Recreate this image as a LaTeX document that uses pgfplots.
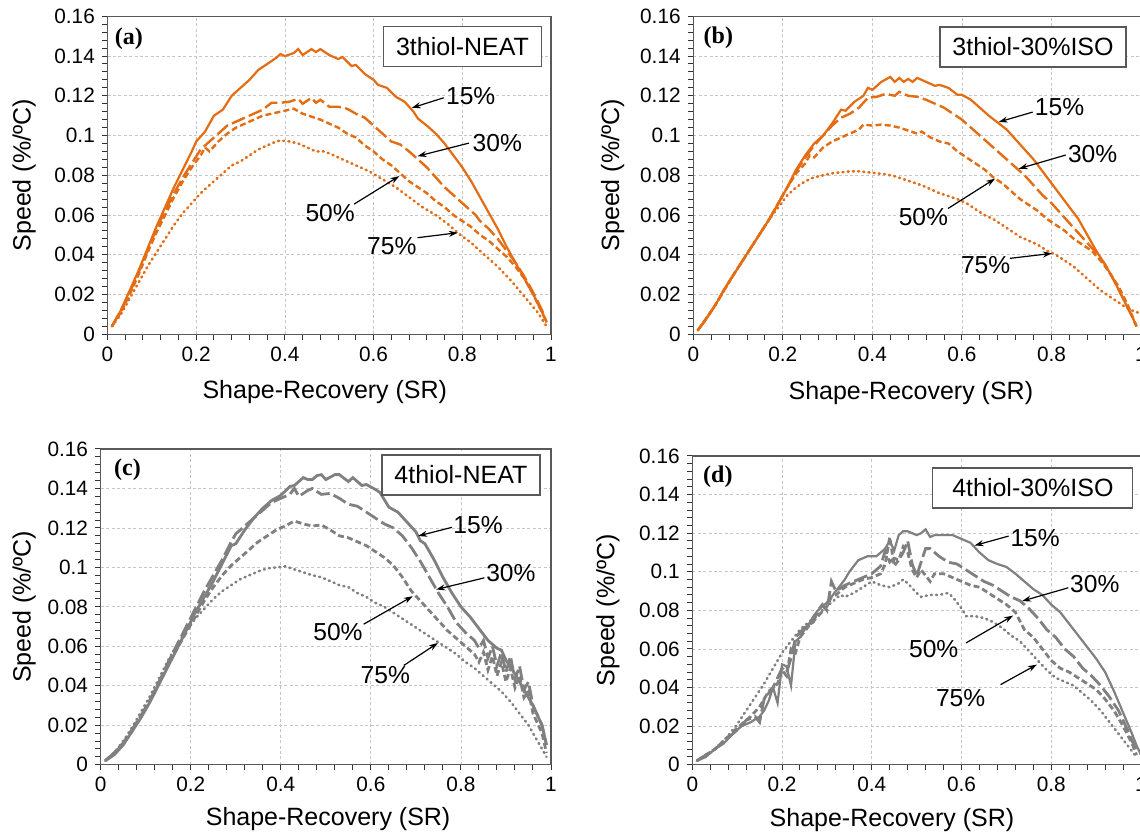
\documentclass[border=0pt]{standalone}
\usepackage{pgfplots}
\pgfplotsset{compat=1.18}
\usepackage{fontspec}
\setmainfont{Liberation Sans}
\newfontfamily\tnr{Liberation Serif}
\usetikzlibrary{arrows.meta}
\definecolor{orng}{RGB}{228,108,18}
\definecolor{gry}{RGB}{128,128,128}
\tikzset{
 s15/.style={line width=1.1pt},
 s30/.style={line width=1.2pt, dash pattern=on 7pt off 2.2pt},
 s50/.style={line width=1.2pt, dash pattern=on 3pt off 1.6pt},
 s75/.style={line width=1.3pt, line cap=round, dash pattern=on 0.5pt off 2.1pt},
 ann/.style={font=\fontsize{12.3}{14}\selectfont},
 arr/.style={-{Stealth[length=4.5pt,width=3pt]}, line width=0.6pt, black},
 boxl/.style={draw=gray!70!black, line width=0.6pt, fill=white, font=\fontsize{12.5}{14}\selectfont, minimum height=20pt, inner sep=0pt},
 plab/.style={font=\tnr\bfseries\fontsize{12}{14}\selectfont},
}
\pgfplotsset{
 panel/.style={
  scale only axis, xmin=0,xmax=1,ymin=0,ymax=0.16,
  xtick={0,0.2,0.4,0.6,0.8,1}, ytick={0,0.02,0.04,0.06,0.08,0.1,0.12,0.14,0.16},
  minor x tick num=4, minor y tick num=4,
  tick pos=left, tick align=outside,
  major tick length=2.8pt, minor tick length=2.8pt,
  grid=major, major grid style={gray!45, dash pattern=on 1.5pt off 1.2pt, line width=0.4pt},
  axis line style={gray!70!black, line width=0.6pt},
  tick style={black!80, line width=0.5pt},
  scaled ticks=false,
  xticklabel style={/pgf/number format/fixed, /pgf/number format/precision=1},
  yticklabel style={/pgf/number format/fixed, /pgf/number format/precision=2},
  /pgf/number format/assume math mode=true,
  tick label style={font=\fontsize{10.4}{12}\selectfont},
  label style={font=\fontsize{12.5}{14}\selectfont},
  xlabel={Shape-Recovery (SR)}, ylabel={Speed (\%/ºC)},
  clip=false,
 },
}
\begin{document}
\begin{tikzpicture}
\path[use as bounding box] (0,0) rectangle (570pt,417.5pt);
% ---------------- (a)
\begin{axis}[panel, at={(53.75pt,250.35pt)}, anchor=south west, width=221.75pt, height=159pt,
  xlabel style={at={(axis description cs:0.49,-0.181)}, anchor=center},
  ylabel style={at={(axis description cs:-0.188,0.5)}, anchor=center}]
\addplot[orng, s15] coordinates {(0.01,0.004) (0.03,0.012) (0.05,0.022) (0.07,0.032) (0.09,0.043) (0.11,0.054) (0.13,0.064) (0.15,0.074) (0.17,0.083) (0.19,0.092) (0.20,0.097) (0.22,0.102) (0.24,0.110) (0.26,0.113) (0.28,0.120) (0.30,0.124) (0.32,0.128) (0.34,0.133) (0.36,0.136) (0.38,0.139) (0.39,0.141) (0.40,0.140) (0.42,0.1415) (0.43,0.1435) (0.44,0.1405) (0.46,0.1435) (0.47,0.142) (0.48,0.1435) (0.50,0.1405) (0.52,0.1385) (0.53,0.1395) (0.55,0.135) (0.56,0.1355) (0.58,0.131) (0.60,0.128) (0.61,0.1255) (0.63,0.124) (0.65,0.1195) (0.67,0.117) (0.69,0.112) (0.70,0.1085) (0.72,0.105) (0.74,0.101) (0.76,0.096) (0.78,0.090) (0.80,0.084) (0.82,0.077) (0.84,0.069) (0.86,0.061) (0.88,0.053) (0.90,0.044) (0.92,0.036) (0.94,0.028) (0.96,0.020) (0.98,0.011) (0.99,0.006)};
\addplot[orng, s30] coordinates {(0.01,0.004) (0.03,0.012) (0.05,0.021) (0.07,0.031) (0.09,0.042) (0.11,0.053) (0.13,0.062) (0.15,0.071) (0.17,0.079) (0.19,0.086) (0.21,0.093) (0.23,0.097) (0.25,0.101) (0.27,0.105) (0.29,0.107) (0.31,0.109) (0.33,0.111) (0.35,0.113) (0.37,0.1165) (0.39,0.1165) (0.41,0.117) (0.43,0.1185) (0.44,0.116) (0.46,0.119) (0.47,0.1165) (0.48,0.118) (0.50,0.1145) (0.52,0.1145) (0.54,0.1135) (0.56,0.111) (0.58,0.109) (0.60,0.105) (0.62,0.101) (0.64,0.097) (0.66,0.0955) (0.68,0.092) (0.70,0.088) (0.72,0.084) (0.74,0.079) (0.76,0.074) (0.78,0.070) (0.80,0.066) (0.82,0.062) (0.83,0.060) (0.84,0.057) (0.86,0.053) (0.88,0.048) (0.90,0.042) (0.92,0.036) (0.94,0.029) (0.96,0.021) (0.98,0.012) (0.99,0.006)};
\addplot[orng, s50] coordinates {(0.01,0.004) (0.03,0.011) (0.05,0.020) (0.07,0.030) (0.09,0.041) (0.11,0.051) (0.13,0.060) (0.15,0.069) (0.17,0.077) (0.19,0.084) (0.21,0.090) (0.22,0.094) (0.23,0.092) (0.25,0.097) (0.27,0.101) (0.29,0.104) (0.31,0.106) (0.33,0.108) (0.35,0.110) (0.37,0.111) (0.39,0.112) (0.41,0.113) (0.42,0.1135) (0.44,0.111) (0.46,0.1095) (0.48,0.108) (0.50,0.106) (0.52,0.104) (0.54,0.101) (0.56,0.099) (0.58,0.095) (0.60,0.092) (0.62,0.088) (0.64,0.085) (0.66,0.081) (0.68,0.077) (0.70,0.074) (0.72,0.071) (0.74,0.067) (0.76,0.064) (0.78,0.060) (0.80,0.057) (0.82,0.054) (0.84,0.050) (0.86,0.047) (0.88,0.043) (0.90,0.039) (0.92,0.034) (0.94,0.028) (0.96,0.020) (0.98,0.011) (0.99,0.006)};
\addplot[orng, s75] coordinates {(0.01,0.004) (0.03,0.010) (0.05,0.018) (0.07,0.026) (0.09,0.034) (0.11,0.041) (0.13,0.048) (0.15,0.055) (0.17,0.061) (0.19,0.066) (0.21,0.071) (0.23,0.075) (0.25,0.079) (0.27,0.083) (0.28,0.085) (0.30,0.087) (0.32,0.090) (0.34,0.093) (0.36,0.095) (0.38,0.097) (0.39,0.0975) (0.41,0.097) (0.43,0.096) (0.45,0.094) (0.47,0.092) (0.49,0.092) (0.51,0.090) (0.53,0.088) (0.56,0.085) (0.59,0.082) (0.62,0.078) (0.65,0.074) (0.68,0.069) (0.71,0.064) (0.74,0.060) (0.77,0.055) (0.79,0.051) (0.82,0.046) (0.85,0.040) (0.88,0.034) (0.91,0.027) (0.94,0.019) (0.97,0.011) (0.99,0.004)};
\node[boxl, minimum width=79pt] at (axis cs:0.8005,0.1446) {3thiol-NEAT};
\node[plab] at (axis cs:0.048,0.1486) {(a)};
\node[ann] at (axis cs:0.819,0.1198) {15\%};
\draw[arr] (axis cs:0.758,0.119) -- (axis cs:0.686,0.1139);
\node[ann] at (axis cs:0.879,0.096) {30\%};
\draw[arr] (axis cs:0.815,0.0962) -- (axis cs:0.699,0.0896);
\node[ann] at (axis cs:0.502,0.0608) {50\%};
\draw[arr] (axis cs:0.556,0.0655) -- (axis cs:0.658,0.0796);
\node[ann] at (axis cs:0.641,0.0444) {75\%};
\draw[arr] (axis cs:0.699,0.0486) -- (axis cs:0.790,0.0511);
\end{axis}
% ---------------- (b)
\begin{axis}[panel, at={(346.65pt,250.35pt)}, anchor=south west, width=223.85pt, height=159pt,
  xlabel style={at={(axis description cs:0.486,-0.185)}, anchor=center},
  ylabel style={at={(axis description cs:-0.18,0.5)}, anchor=center}]
\addplot[orng, s15] coordinates {(0.01,0.002) (0.03,0.008) (0.05,0.015) (0.07,0.023) (0.09,0.030) (0.11,0.037) (0.13,0.044) (0.15,0.051) (0.17,0.058) (0.19,0.066) (0.21,0.074) (0.23,0.083) (0.25,0.090) (0.27,0.096) (0.29,0.100) (0.31,0.106) (0.33,0.113) (0.34,0.1125) (0.36,0.117) (0.38,0.120) (0.39,0.124) (0.40,0.123) (0.42,0.127) (0.44,0.1295) (0.45,0.127) (0.46,0.129) (0.47,0.127) (0.48,0.1285) (0.49,0.127) (0.50,0.129) (0.52,0.127) (0.54,0.125) (0.55,0.1255) (0.57,0.124) (0.59,0.1205) (0.60,0.1205) (0.62,0.118) (0.64,0.114) (0.66,0.110) (0.68,0.1065) (0.70,0.103) (0.72,0.098) (0.74,0.093) (0.76,0.088) (0.78,0.082) (0.80,0.076) (0.82,0.070) (0.84,0.064) (0.86,0.058) (0.88,0.050) (0.90,0.042) (0.92,0.035) (0.94,0.027) (0.96,0.018) (0.98,0.009) (0.99,0.004)};
\addplot[orng, s30] coordinates {(0.01,0.002) (0.03,0.008) (0.05,0.015) (0.07,0.023) (0.09,0.030) (0.11,0.037) (0.13,0.044) (0.15,0.051) (0.17,0.058) (0.19,0.066) (0.21,0.074) (0.23,0.082) (0.25,0.089) (0.27,0.095) (0.29,0.100) (0.31,0.105) (0.33,0.109) (0.35,0.111) (0.37,0.114) (0.39,0.119) (0.41,0.1195) (0.43,0.121) (0.45,0.120) (0.46,0.122) (0.48,0.120) (0.50,0.1195) (0.52,0.118) (0.54,0.116) (0.56,0.114) (0.58,0.111) (0.60,0.108) (0.62,0.104) (0.64,0.100) (0.66,0.096) (0.68,0.092) (0.70,0.088) (0.72,0.084) (0.74,0.080) (0.76,0.075) (0.78,0.070) (0.80,0.066) (0.82,0.061) (0.84,0.056) (0.86,0.051) (0.88,0.046) (0.90,0.041) (0.92,0.035) (0.94,0.027) (0.96,0.018) (0.98,0.009) (0.99,0.004)};
\addplot[orng, s50] coordinates {(0.01,0.002) (0.05,0.015) (0.09,0.030) (0.13,0.044) (0.17,0.058) (0.19,0.066) (0.21,0.074) (0.23,0.081) (0.25,0.086) (0.26,0.090) (0.27,0.089) (0.29,0.094) (0.31,0.097) (0.33,0.099) (0.35,0.101) (0.37,0.103) (0.38,0.1055) (0.40,0.105) (0.42,0.1055) (0.44,0.105) (0.46,0.104) (0.48,0.1025) (0.50,0.101) (0.51,0.102) (0.53,0.099) (0.55,0.097) (0.57,0.096) (0.59,0.092) (0.61,0.089) (0.63,0.086) (0.65,0.083) (0.67,0.079) (0.69,0.076) (0.71,0.072) (0.73,0.068) (0.75,0.065) (0.77,0.062) (0.79,0.058) (0.81,0.055) (0.83,0.052) (0.85,0.048) (0.87,0.045) (0.89,0.042) (0.91,0.037) (0.93,0.031) (0.95,0.024) (0.97,0.015) (0.99,0.004)};
\addplot[orng, s75] coordinates {(0.01,0.002) (0.05,0.015) (0.09,0.030) (0.13,0.044) (0.17,0.058) (0.19,0.064) (0.21,0.070) (0.23,0.074) (0.25,0.077) (0.27,0.079) (0.29,0.080) (0.31,0.081) (0.33,0.0815) (0.35,0.082) (0.37,0.082) (0.39,0.0815) (0.41,0.081) (0.43,0.0805) (0.45,0.0795) (0.47,0.078) (0.49,0.0765) (0.51,0.075) (0.53,0.073) (0.55,0.071) (0.57,0.0695) (0.59,0.068) (0.61,0.066) (0.63,0.063) (0.65,0.060) (0.67,0.058) (0.69,0.055) (0.71,0.052) (0.73,0.049) (0.75,0.047) (0.77,0.045) (0.79,0.042) (0.81,0.040) (0.83,0.037) (0.85,0.034) (0.87,0.030) (0.89,0.026) (0.91,0.022) (0.93,0.019) (0.95,0.016) (0.97,0.013) (0.99,0.011) (1.00,0.011)};
\node[boxl, minimum width=93pt] at (axis cs:0.7588,0.1446) {3thiol-30\%ISO};
\node[plab] at (axis cs:0.056,0.1492) {(b)};
\node[ann] at (axis cs:0.818,0.1143) {15\%};
\draw[arr] (axis cs:0.758,0.1118) -- (axis cs:0.682,0.1068);
\node[ann] at (axis cs:0.892,0.0909) {30\%};
\draw[arr] (axis cs:0.832,0.0902) -- (axis cs:0.727,0.0833);
\node[ann] at (axis cs:0.514,0.0591) {50\%};
\draw[arr] (axis cs:0.569,0.0633) -- (axis cs:0.674,0.0783);
\node[ann] at (axis cs:0.653,0.0348) {75\%};
\draw[arr] (axis cs:0.707,0.0382) -- (axis cs:0.801,0.0407);
\end{axis}
% ---------------- (c)
\begin{axis}[panel, at={(50.35pt,35.15pt)}, anchor=south west, width=225.15pt, height=157.85pt,
  xlabel style={at={(axis description cs:0.505,-0.172)}, anchor=center},
  ylabel style={at={(axis description cs:-0.170,0.5)}, anchor=center}]
\addplot[gry, s15, line width=1.4pt] coordinates {(0.01,0.002) (0.03,0.005) (0.05,0.010) (0.07,0.017) (0.09,0.024) (0.11,0.032) (0.13,0.041) (0.15,0.050) (0.17,0.059) (0.19,0.068) (0.21,0.077) (0.23,0.085) (0.25,0.093) (0.27,0.102) (0.29,0.111) (0.30,0.112) (0.32,0.119) (0.34,0.125) (0.36,0.130) (0.38,0.134) (0.40,0.1365) (0.42,0.141) (0.43,0.1415) (0.45,0.1455) (0.46,0.1445) (0.47,0.1445) (0.48,0.1465) (0.49,0.147) (0.50,0.1445) (0.52,0.147) (0.53,0.147) (0.55,0.1435) (0.56,0.1455) (0.58,0.1415) (0.59,0.142) (0.61,0.1395) (0.62,0.138) (0.64,0.1305) (0.66,0.128) (0.68,0.123) (0.70,0.118) (0.71,0.1135) (0.72,0.112) (0.74,0.104) (0.76,0.095) (0.78,0.087) (0.80,0.080) (0.82,0.075) (0.84,0.069) (0.86,0.063) (0.88,0.059) (0.89,0.058) (0.90,0.053) (0.92,0.046) (0.94,0.038) (0.96,0.030) (0.98,0.020) (0.99,0.010)};
\addplot[gry, s30, line width=1.4pt] coordinates {(0.01,0.002) (0.03,0.006) (0.05,0.011) (0.07,0.018) (0.09,0.025) (0.11,0.033) (0.13,0.042) (0.15,0.052) (0.17,0.061) (0.19,0.070) (0.21,0.079) (0.23,0.088) (0.25,0.096) (0.27,0.104) (0.29,0.113) (0.30,0.117) (0.32,0.121) (0.34,0.125) (0.36,0.129) (0.38,0.133) (0.40,0.135) (0.42,0.137) (0.43,0.140) (0.44,0.136) (0.46,0.139) (0.47,0.140) (0.49,0.137) (0.51,0.1375) (0.53,0.135) (0.55,0.132) (0.57,0.131) (0.59,0.128) (0.61,0.125) (0.63,0.122) (0.65,0.120) (0.67,0.116) (0.69,0.110) (0.71,0.103) (0.73,0.095) (0.75,0.087) (0.77,0.080) (0.79,0.072) (0.81,0.067) (0.83,0.063) (0.84,0.059) (0.85,0.063) (0.86,0.054) (0.87,0.060) (0.88,0.050) (0.89,0.057) (0.90,0.047) (0.91,0.055) (0.92,0.043) (0.93,0.050) (0.94,0.038) (0.95,0.042) (0.96,0.030) (0.98,0.020) (0.99,0.010)};
\addplot[gry, s50, line width=1.4pt] coordinates {(0.01,0.002) (0.03,0.006) (0.05,0.011) (0.07,0.017) (0.09,0.025) (0.11,0.033) (0.13,0.042) (0.15,0.051) (0.17,0.059) (0.19,0.067) (0.21,0.075) (0.23,0.083) (0.25,0.090) (0.27,0.096) (0.29,0.101) (0.31,0.105) (0.33,0.109) (0.35,0.113) (0.37,0.116) (0.39,0.119) (0.41,0.121) (0.43,0.1235) (0.45,0.122) (0.47,0.121) (0.49,0.1215) (0.51,0.119) (0.53,0.116) (0.55,0.115) (0.57,0.113) (0.59,0.111) (0.61,0.108) (0.63,0.105) (0.65,0.101) (0.67,0.095) (0.69,0.088) (0.71,0.083) (0.73,0.078) (0.75,0.073) (0.77,0.068) (0.79,0.064) (0.81,0.060) (0.83,0.056) (0.84,0.052) (0.85,0.057) (0.86,0.048) (0.87,0.055) (0.88,0.045) (0.89,0.052) (0.90,0.042) (0.91,0.049) (0.92,0.039) (0.93,0.045) (0.94,0.034) (0.95,0.037) (0.96,0.026) (0.98,0.016) (0.99,0.006)};
\addplot[gry, s75] coordinates {(0.01,0.002) (0.03,0.006) (0.05,0.012) (0.07,0.019) (0.09,0.027) (0.11,0.035) (0.13,0.044) (0.15,0.053) (0.17,0.061) (0.19,0.068) (0.21,0.074) (0.23,0.079) (0.25,0.084) (0.27,0.088) (0.29,0.091) (0.31,0.094) (0.33,0.096) (0.35,0.098) (0.37,0.0995) (0.39,0.100) (0.41,0.1005) (0.43,0.099) (0.45,0.0975) (0.47,0.096) (0.49,0.095) (0.51,0.093) (0.53,0.091) (0.55,0.090) (0.57,0.087) (0.59,0.085) (0.61,0.082) (0.63,0.080) (0.65,0.077) (0.67,0.074) (0.69,0.071) (0.71,0.068) (0.73,0.065) (0.75,0.062) (0.77,0.059) (0.79,0.056) (0.81,0.052) (0.83,0.049) (0.85,0.045) (0.87,0.041) (0.89,0.037) (0.91,0.032) (0.93,0.026) (0.95,0.020) (0.97,0.012) (0.99,0.004)};
\node[boxl, minimum width=79pt] at (axis cs:0.800,0.1468) {4thiol-NEAT};
\node[plab] at (axis cs:0.0595,0.1496) {(c)};
\node[ann] at (axis cs:0.838,0.1215) {15\%};
\draw[arr] (axis cs:0.780,0.1203) -- (axis cs:0.705,0.1159);
\node[ann] at (axis cs:0.911,0.0972) {30\%};
\draw[arr] (axis cs:0.852,0.0947) -- (axis cs:0.745,0.0888);
\node[ann] at (axis cs:0.527,0.067) {50\%};
\draw[arr] (axis cs:0.584,0.0712) -- (axis cs:0.693,0.0854);
\node[ann] at (axis cs:0.632,0.0452) {75\%};
\draw[arr] (axis cs:0.673,0.0503) -- (axis cs:0.749,0.0617);
\end{axis}
% ---------------- (d)
\begin{axis}[panel, at={(346.15pt,35.15pt)}, anchor=south west, width=224.35pt, height=154.35pt,
  xlabel style={at={(axis description cs:0.445,-0.179)}, anchor=center},
  ylabel style={at={(axis description cs:-0.188,0.5)}, anchor=center}]
\addplot[gry, s15] coordinates {(0.01,0.002) (0.03,0.004) (0.05,0.008) (0.07,0.011) (0.09,0.016) (0.11,0.020) (0.13,0.022) (0.15,0.025) (0.16,0.028) (0.17,0.033) (0.18,0.040) (0.19,0.032) (0.20,0.052) (0.21,0.051) (0.22,0.041) (0.23,0.064) (0.24,0.066) (0.25,0.070) (0.26,0.073) (0.27,0.077) (0.28,0.080) (0.29,0.082) (0.30,0.084) (0.31,0.087) (0.32,0.090) (0.33,0.093) (0.34,0.096) (0.35,0.100) (0.37,0.106) (0.39,0.108) (0.41,0.108) (0.42,0.110) (0.43,0.112) (0.44,0.116) (0.45,0.111) (0.46,0.119) (0.47,0.121) (0.48,0.121) (0.49,0.120) (0.50,0.119) (0.51,0.120) (0.52,0.122) (0.53,0.118) (0.54,0.119) (0.56,0.119) (0.58,0.119) (0.60,0.117) (0.62,0.115) (0.64,0.110) (0.66,0.106) (0.68,0.104) (0.70,0.1025) (0.72,0.099) (0.74,0.095) (0.76,0.091) (0.78,0.088) (0.80,0.083) (0.82,0.079) (0.84,0.073) (0.86,0.067) (0.88,0.061) (0.90,0.055) (0.92,0.048) (0.94,0.038) (0.96,0.027) (0.98,0.016) (0.99,0.010) (1.00,0.005)};
\addplot[gry, s30, line width=1.4pt] coordinates {(0.01,0.002) (0.05,0.008) (0.10,0.018) (0.12,0.023) (0.14,0.025) (0.15,0.022) (0.16,0.034) (0.18,0.040) (0.19,0.045) (0.20,0.050) (0.21,0.048) (0.22,0.055) (0.23,0.066) (0.25,0.071) (0.27,0.074) (0.28,0.080) (0.29,0.083) (0.30,0.080) (0.31,0.095) (0.32,0.090) (0.34,0.093) (0.36,0.095) (0.38,0.097) (0.40,0.099) (0.42,0.103) (0.43,0.111) (0.44,0.105) (0.45,0.107) (0.46,0.106) (0.47,0.110) (0.48,0.116) (0.49,0.104) (0.50,0.098) (0.51,0.105) (0.52,0.112) (0.53,0.112) (0.55,0.108) (0.57,0.105) (0.59,0.104) (0.61,0.101) (0.63,0.098) (0.65,0.095) (0.67,0.093) (0.69,0.090) (0.71,0.087) (0.73,0.085) (0.75,0.081) (0.77,0.076) (0.79,0.070) (0.81,0.066) (0.83,0.060) (0.85,0.056) (0.87,0.050) (0.89,0.046) (0.91,0.041) (0.93,0.035) (0.95,0.028) (0.97,0.018) (0.99,0.007)};
\addplot[gry, s50, line width=1.4pt] coordinates {(0.01,0.002) (0.05,0.008) (0.10,0.019) (0.13,0.025) (0.15,0.030) (0.17,0.038) (0.19,0.042) (0.20,0.049) (0.21,0.046) (0.22,0.060) (0.23,0.058) (0.24,0.066) (0.26,0.072) (0.28,0.077) (0.30,0.082) (0.31,0.087) (0.32,0.088) (0.34,0.092) (0.36,0.094) (0.38,0.096) (0.40,0.097) (0.42,0.099) (0.43,0.104) (0.44,0.118) (0.45,0.103) (0.46,0.106) (0.47,0.113) (0.48,0.110) (0.49,0.101) (0.50,0.097) (0.51,0.101) (0.52,0.098) (0.53,0.095) (0.54,0.099) (0.56,0.099) (0.58,0.097) (0.60,0.095) (0.62,0.093) (0.64,0.092) (0.66,0.089) (0.68,0.086) (0.70,0.083) (0.72,0.079) (0.74,0.070) (0.76,0.066) (0.78,0.060) (0.80,0.054) (0.82,0.050) (0.84,0.048) (0.86,0.045) (0.88,0.042) (0.90,0.039) (0.92,0.034) (0.94,0.028) (0.96,0.020) (0.98,0.011) (0.99,0.005)};
\addplot[gry, s75] coordinates {(0.01,0.002) (0.05,0.008) (0.08,0.015) (0.10,0.021) (0.12,0.028) (0.14,0.035) (0.16,0.042) (0.18,0.050) (0.20,0.058) (0.22,0.064) (0.24,0.070) (0.26,0.074) (0.28,0.078) (0.30,0.082) (0.32,0.086) (0.33,0.088) (0.34,0.087) (0.36,0.089) (0.38,0.092) (0.40,0.095) (0.42,0.093) (0.44,0.092) (0.46,0.094) (0.47,0.096) (0.48,0.094) (0.50,0.089) (0.51,0.087) (0.53,0.088) (0.55,0.088) (0.57,0.089) (0.58,0.087) (0.60,0.081) (0.61,0.077) (0.63,0.077) (0.65,0.076) (0.67,0.074) (0.69,0.071) (0.71,0.067) (0.73,0.064) (0.75,0.059) (0.77,0.054) (0.79,0.049) (0.81,0.045) (0.83,0.043) (0.85,0.041) (0.87,0.037) (0.89,0.033) (0.91,0.028) (0.93,0.022) (0.95,0.016) (0.97,0.010) (0.99,0.004)};
\node[boxl, minimum width=100pt] at (axis cs:0.759,0.1434) {4thiol-30\%ISO};
\node[plab] at (axis cs:0.057,0.1491) {(d)};
\node[ann] at (axis cs:0.764,0.1176) {15\%};
\draw[arr] (axis cs:0.705,0.1185) -- (axis cs:0.629,0.1136);
\node[ann] at (axis cs:0.897,0.0934) {30\%};
\draw[arr] (axis cs:0.838,0.0917) -- (axis cs:0.735,0.0848);
\node[ann] at (axis cs:0.538,0.0597) {50\%};
\draw[arr] (axis cs:0.610,0.0631) -- (axis cs:0.715,0.0773);
\node[ann] at (axis cs:0.598,0.0346) {75\%};
\draw[arr] (axis cs:0.687,0.0415) -- (axis cs:0.768,0.0519);
\end{axis}
\end{tikzpicture}
\end{document}
